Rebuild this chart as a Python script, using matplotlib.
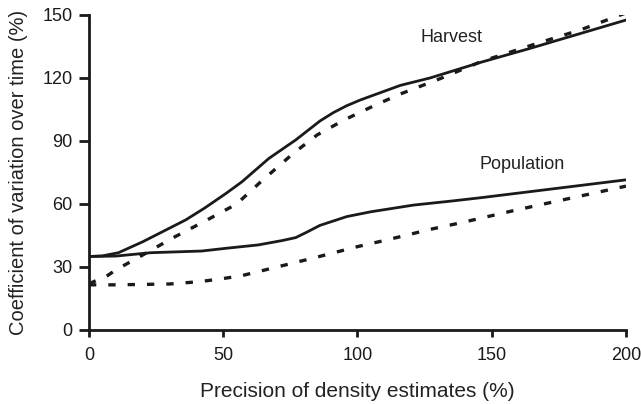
import matplotlib
matplotlib.use("Agg")
import matplotlib.pyplot as plt

plt.rcParams['font.family'] = ['Liberation Sans', 'DejaVu Sans']

# =============================
# Data
# =============================
harvest_x = [0, 5, 11, 20, 36, 43, 51, 57, 67, 77, 81, 86, 91, 96, 101, 116, 127, 146, 164, 200]
harvest_y = [35, 35.3, 36.8, 42, 52.4, 58, 65, 70.6, 81.7, 90.5, 94.5, 99.5, 103.5, 106.8, 109.5, 116.5, 120, 127.5, 134, 147.6]

harvest_d_x = [0, 7, 10, 20, 31, 44, 55, 64, 76, 85, 95, 106, 116, 131, 146, 167, 183, 200]
harvest_d_y = [22, 26, 28.6, 35.7, 43.7, 52.4, 60, 70.6, 84, 92.9, 100, 106.7, 112.4, 119.8, 127.8, 136.5, 142.9, 151]

pop_x = [0, 10, 23, 42, 51, 63, 72, 77, 81, 86, 96, 105, 121, 135, 146, 200]
pop_y = [35, 35.2, 36.8, 37.6, 38.9, 40.5, 42.6, 44, 46.5, 49.8, 54, 56.3, 59.5, 61.4, 63, 71.5]

pop_d_x = [0, 10, 30, 41, 49, 57, 71, 84, 100, 111, 127, 139, 159, 182, 200]
pop_d_y = [21.5, 21.5, 21.9, 23, 24.3, 25.9, 30.3, 34.4, 39.7, 42.9, 47.9, 51.2, 57.1, 63.5, 68.5]

# =============================
# Plot
# =============================
fig = plt.figure(figsize=(6.41, 4.04), dpi=100)
ax = fig.add_axes([0.1388, 0.1832, 0.8378, 0.7797])

ax.plot(harvest_x, harvest_y, color='#1a1a1a', lw=2)
ax.plot(harvest_d_x, harvest_d_y, color='#1a1a1a', lw=2.4, dashes=(2.2, 3.6))
ax.plot(pop_x, pop_y, color='#1a1a1a', lw=2)
ax.plot(pop_d_x, pop_d_y, color='#1a1a1a', lw=2.4, dashes=(2.2, 3.6))

ax.text(135, 139.5, "Harvest", ha='center', va='center', fontsize=13, color='#222222')
ax.text(161.5, 79, "Population", ha='center', va='center', fontsize=13, color='#222222')

ax.set_xlim(0, 200)
ax.set_ylim(0, 150)
ax.set_xticks([0, 50, 100, 150, 200])
ax.set_yticks([0, 30, 60, 90, 120, 150])

for s in ['top', 'right']:
    ax.spines[s].set_visible(False)
for s in ['left', 'bottom']:
    ax.spines[s].set_linewidth(2)
    ax.spines[s].set_color('#1a1a1a')

ax.tick_params(axis='y', direction='out', length=7, width=2, labelsize=13, pad=5, colors='#1a1a1a')
ax.tick_params(axis='x', direction='out', length=5, width=2, labelsize=13, pad=7, colors='#1a1a1a')

ax.set_xlabel("Precision of density estimates (%)", fontsize=15, labelpad=13, color='#222222')
ax.set_ylabel("Coefficient of variation over time (%)", fontsize=14.5, labelpad=10, color='#222222')

fig.savefig("out.png", dpi=100)
